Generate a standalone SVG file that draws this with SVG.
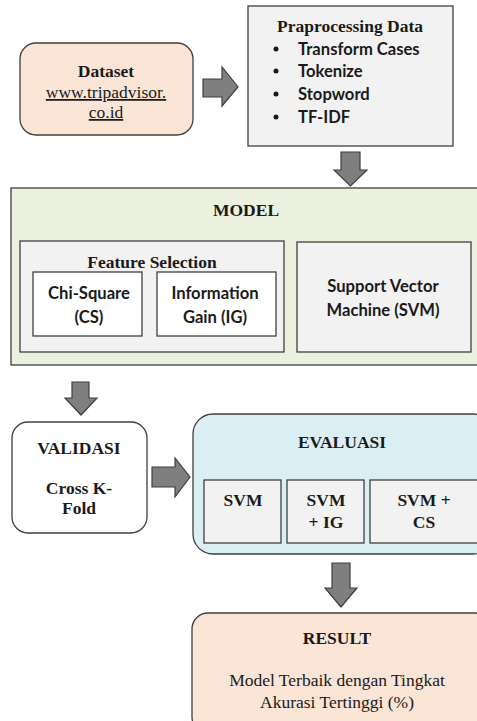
<svg xmlns="http://www.w3.org/2000/svg" width="477" height="721" viewBox="0 0 477 721">
<style>
.box{stroke:#3f3f3f;stroke-width:1.3}
.peach{fill:#fbe5d6}
.grey{fill:#f2f2f2}
.green{fill:#ebf1de}
.blue{fill:#daeef3}
.white{fill:#ffffff}
.arr{fill:#7f7f7f;stroke:#3f3f3f;stroke-width:1.2;stroke-linejoin:miter}
.st{font-family:"Liberation Serif","Times New Roman",serif;font-size:17.5px;fill:#1a1a1a;text-anchor:middle}
.b{font-weight:bold}
.ss{font-family:Lato,"Liberation Sans",sans-serif;font-weight:bold;font-size:16.6px;fill:#1a1a1a}
.mid{text-anchor:middle}
</style>
<rect width="477" height="721" fill="#ffffff"/>
<g id="connectors">
<path class="arr" d="M203,79 H222 V67 L238,87 L222,106 V97 H203 Z"/>
<path class="arr" d="M341,152 H360 V170 H367 L350.5,186 L334,170 H341 Z"/>
<path class="arr" d="M72,382 H89 V398 H97 L81,415 L65,398 H72 Z"/>
<path class="arr" d="M152,467 H175 V458 L190,477 L175,497 V487 H152 Z"/>
<path class="arr" d="M332,563 H350 V588 H357 L341,607 L325,588 H332 Z"/>
</g>
<g id="dataset">
<rect class="box peach" x="20" y="43" width="173" height="92" rx="16"/>
<text class="st b" x="106" y="77">Dataset</text>
<text class="st" x="106" y="98" text-decoration="underline">www.tripadvisor.</text>
<text class="st" x="106" y="118" text-decoration="underline">co.id</text>
</g>
<g id="preprocessing">
<rect class="box grey" x="248" y="6" width="205" height="140"/>
<text class="st b" x="350" y="32">Praprocessing Data</text>
<g class="ss">
<circle cx="276" cy="49" r="2.5" fill="#1a1a1a"/>
<circle cx="276" cy="71" r="2.5" fill="#1a1a1a"/>
<circle cx="276" cy="94" r="2.5" fill="#1a1a1a"/>
<circle cx="276" cy="117" r="2.5" fill="#1a1a1a"/>
<text x="298" y="55">Transform Cases</text>
<text x="298" y="77">Tokenize</text>
<text x="298" y="100">Stopword</text>
<text x="298" y="123">TF-IDF</text>
</g>
</g>
<g id="model">
<rect class="box green" x="11" y="188" width="472" height="177"/>
<text class="st b" x="246" y="216">MODEL</text>
</g>
<g id="feature-selection">
<rect class="box grey" x="20" y="241" width="264" height="111"/>
<text class="st b" x="152" y="268">Feature Selection</text>
</g>
<g id="chi-square">
<rect class="box white" x="33" y="272" width="109" height="64"/>
<text class="ss mid" x="89" y="299">Chi-Square</text>
<text class="ss mid" x="89" y="323">(CS)</text>
</g>
<g id="information-gain">
<rect class="box white" x="157" y="272" width="119" height="64"/>
<text class="ss mid" x="215" y="299">Information</text>
<text class="ss mid" x="215" y="323">Gain (IG)</text>
</g>
<g id="svm-model">
<rect class="box grey" x="297" y="242" width="174" height="110"/>
<text class="ss mid" x="383" y="292" font-size="20.5">Support Vector</text>
<text class="ss mid" x="383" y="316" font-size="20.5">Machine (SVM)</text>
</g>
<g id="validasi">
<rect class="box white" x="12" y="422" width="135" height="111" rx="16"/>
<text class="st b" x="79" y="454">VALIDASI</text>
<text class="st b" x="79" y="494">Cross K-</text>
<text class="st b" x="79" y="514">Fold</text>
</g>
<g id="evaluasi">
<rect class="box blue" x="193" y="414" width="300" height="140" rx="20"/>
<text class="st b" x="342" y="448">EVALUASI</text>
</g>
<g id="eval-svm">
<rect class="box grey" x="204" y="480" width="77" height="63"/>
<text class="st b" x="243" y="506">SVM</text>
</g>
<g id="eval-svm-ig">
<rect class="box grey" x="287" y="480" width="77" height="63"/>
<text class="st b" x="326" y="506">SVM</text>
<text class="st b" x="326" y="528">+ IG</text>
</g>
<g id="eval-svm-cs">
<rect class="box grey" x="370" y="480" width="115" height="63"/>
<text class="st b" x="424" y="506">SVM +</text>
<text class="st b" x="424" y="528">CS</text>
</g>
<g id="result">
<rect class="box peach" x="192" y="613" width="298" height="120" rx="16"/>
<text class="st b" x="337" y="644">RESULT</text>
<text class="st" x="337" y="686">Model Terbaik dengan Tingkat</text>
<text class="st" x="337" y="708">Akurasi Tertinggi (%)</text>
</g>
</svg>
